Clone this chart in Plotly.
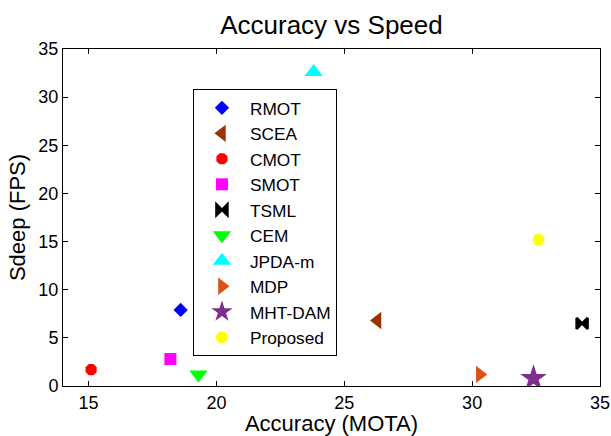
import plotly.graph_objects as go

methods = ["RMOT", "SCEA", "CMOT", "SMOT", "TSML", "CEM", "JPDA-m", "MDP", "MHT-DAM", "Proposed"]
accuracy = [18.6, 26.3, 15.1, 18.2, 34.3, 19.3, 23.8, 30.3, 32.4, 32.6]
speed = [7.9, 6.8, 1.7, 2.8, 6.5, 1.2, 32.6, 1.2, 0.8, 15.2]

symbols = ["diamond", "triangle-left", "octagon", "square", "bowtie", "triangle-down",
           "triangle-up", "triangle-right", "star", "circle"]
colors = ["#0000FF", "#993300", "#FF0000", "#FF00FF", "#000000", "#00FF00",
          "#00FFFF", "#D95319", "#7E2F8E", "#FFFF00"]
sizes = [11, 15, 12, 12, 11, 16, 16, 15, 20, 12]

FONT = "Liberation Sans, Arial, Helvetica, sans-serif"

fig = go.Figure()
for m, xv, yv, s, c, sz in zip(methods, accuracy, speed, symbols, colors, sizes):
    lw = 2.5 if s == "bowtie" else 0
    fig.add_trace(go.Scatter(
        x=[xv], y=[yv], mode="markers", name=m,
        marker=dict(symbol=s, color=c, size=sz, line=dict(width=lw, color=c)),
    ))

axis_common = dict(
    showgrid=False, zeroline=False, showline=True, linecolor="black", linewidth=1,
    ticks="inside", ticklen=5, tickcolor="black", mirror="allticks",
    tickfont=dict(family=FONT, size=18, color="black"), automargin=False,
)

fig.update_layout(
    width=611, height=436,
    margin=dict(l=63, r=11, t=49, b=50),
    paper_bgcolor="white", plot_bgcolor="white",
    title=dict(text="Accuracy vs Speed", x=0.5425, xanchor="center",
               y=1 - 25 / 436, yref="container", yanchor="middle",
               font=dict(family=FONT, size=26, color="black")),
    xaxis=dict(range=[14, 35], tickvals=[15, 20, 25, 30, 35],
               title=dict(text="Accuracy (MOTA)", font=dict(family=FONT, size=22, color="black"), standoff=2),
               **axis_common),
    yaxis=dict(range=[0, 35], tickvals=[0, 5, 10, 15, 20, 25, 30, 35],
               title=dict(text="Sdeep (FPS)", font=dict(family=FONT, size=22, color="black"), standoff=6),
               **axis_common),
    legend=dict(x=0.242, y=0.881, xanchor="left", yanchor="top",
                bordercolor="black", borderwidth=1, bgcolor="white",
                itemwidth=46,
                font=dict(family=FONT, size=17.3, color="black")),
    showlegend=True,
)

fig.write_html("out.html")
